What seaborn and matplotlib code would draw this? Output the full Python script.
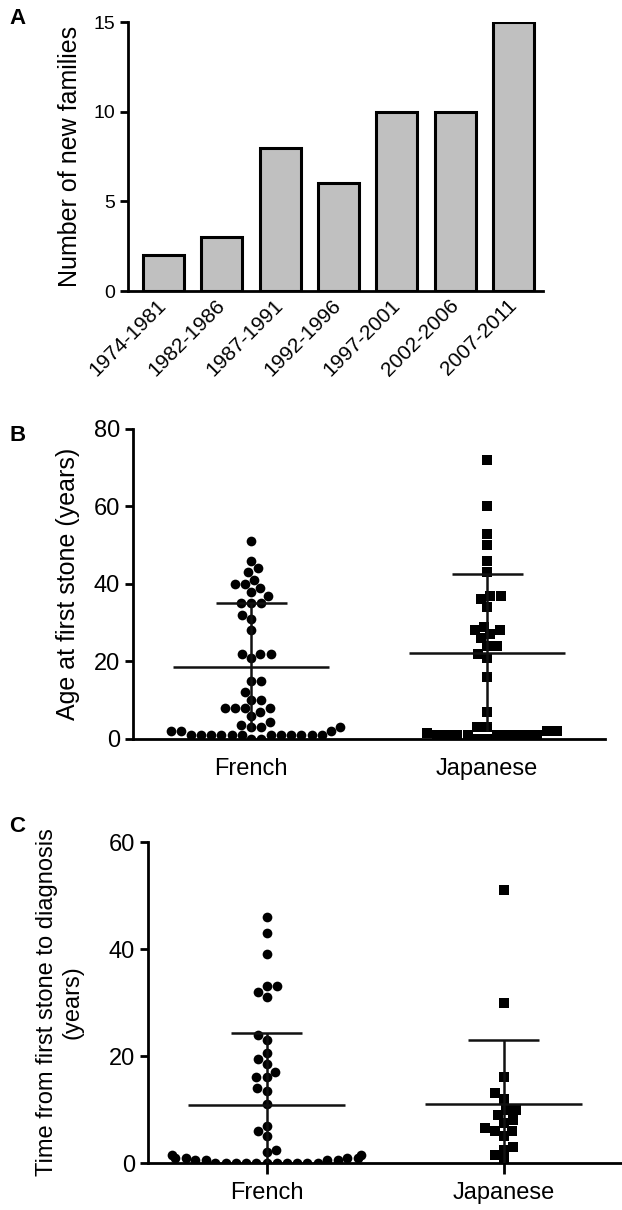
import matplotlib
matplotlib.use("Agg")
import matplotlib.pyplot as plt
import pandas as pd
import seaborn as sns

# panel A: new families per period
periods = ["1974-1981", "1982-1986", "1987-1991", "1992-1996",
           "1997-2001", "2002-2006", "2007-2011"]
new_families = [2, 3, 8, 6, 10, 10, 15]

groups = ["French", "Japanese"]

# panel B: age at first stone (years)
age_french = [51, 46, 44, 43, 41, 40, 40, 39, 38, 37, 35, 35, 35, 32, 31, 28,
              22, 22, 22, 21, 15, 15, 12, 10, 10, 8, 8, 8, 8, 7, 6, 4.5, 3.5,
              3, 3, 3, 2, 2, 2, 1, 1, 1, 1, 1, 1, 1, 1, 1, 1, 1, 1, 0, 0]
age_japanese = [72, 60, 53, 50, 46, 43, 37, 36, 37, 34, 29, 28, 27, 28, 26,
                24, 24, 22, 21, 16, 7, 3, 3, 2, 2, 1.5, 1, 1, 1, 1, 1, 1, 1,
                1, 1, 0, 0]
age_mean = [18.5, 22.3]
age_sd = [16.5, 20.3]

# panel C: time from first stone to diagnosis (years)
delay_french = [46, 43, 39, 33, 33, 31, 32, 24, 23, 20.5, 19.5, 18.5, 17, 16,
                16, 14, 13.5, 11, 6, 7, 5, 2, 2.5, 1.5, 1.5, 1, 1, 1, 1, 0.5,
                0.5, 0.5, 0.5, 0, 0, 0, 0, 0, 0, 0, 0, 0, 0, 0]
delay_japanese = [51, 30, 16, 13, 12, 10, 10, 9, 8, 7.5, 6.5, 6, 6, 5, 2.5, 3,
                  1.5, 0.5]
delay_mean = [10.8, 11.1]
delay_sd = [13.6, 11.9]

sns.set_style("ticks")
plt.rcParams["font.family"] = ["Liberation Sans", "DejaVu Sans"]
plt.rcParams["axes.linewidth"] = 2
plt.rcParams["axes.edgecolor"] = "black"
plt.rcParams["xtick.major.width"] = 2
plt.rcParams["ytick.major.width"] = 2
plt.rcParams["xtick.color"] = "black"
plt.rcParams["ytick.color"] = "black"
plt.rcParams["axes.labelcolor"] = "black"
plt.rcParams["text.color"] = "black"

fig = plt.figure(figsize=(6.22, 12.10), dpi=100)
ax_a = fig.add_axes([0.206, 0.7595, 0.667, 0.2223])
ax_b = fig.add_axes([0.214, 0.3893, 0.759, 0.2562])
ax_c = fig.add_axes([0.238, 0.0388, 0.762, 0.2653])

# ---- A ----
sns.barplot(x=periods, y=new_families, color="#c0c0c0", saturation=1,
            edgecolor="black", linewidth=2.2, width=0.7, ax=ax_a)
ax_a.set_xlim(-0.6, 6.5)
ax_a.set_ylim(0, 15)
ax_a.set_yticks([0, 5, 10, 15])
ax_a.set_ylabel("Number of new families", fontsize=18, labelpad=8)
ax_a.tick_params(axis="y", labelsize=14, length=6)
ax_a.tick_params(axis="x", labelsize=15, length=0, pad=8)
for lab in ax_a.get_xticklabels():
    lab.set_rotation(45)
    lab.set_ha("right")
    lab.set_va("center")
    lab.set_rotation_mode("anchor")


def dot_panel(ax, french, japanese, mean, sd, top, step, ylab, size):
    df = pd.DataFrame({
        "group": ["French"] * len(french) + ["Japanese"] * len(japanese),
        "value": french + japanese,
    })
    sns.swarmplot(data=df[df.group == "French"], x="group", y="value",
                  order=groups, marker="o", color="black", size=size, ax=ax,
                  warn_thresh=1)
    sns.swarmplot(data=df[df.group == "Japanese"], x="group", y="value",
                  order=groups, marker="s", color="black", size=size, ax=ax,
                  warn_thresh=1)
    for i in range(2):
        lo = max(mean[i] - sd[i], 0)
        hi = mean[i] + sd[i]
        ax.hlines(mean[i], i - 0.33, i + 0.33, color="#111111", lw=1.8, zorder=3)
        ax.hlines(hi, i - 0.15, i + 0.15, color="#111111", lw=1.8, zorder=3)
        ax.vlines(i, lo, hi, color="#111111", lw=1.8, zorder=3)
    ax.set_xlim(-0.5, 1.5)
    ax.set_ylim(0, top)
    ax.set_yticks(range(0, top + 1, step))
    ax.set_xlabel("")
    ax.set_ylabel(ylab, fontsize=18)
    ax.tick_params(axis="y", labelsize=17, length=6)
    ax.tick_params(axis="x", labelsize=17)


# ---- B ----
dot_panel(ax_b, age_french, age_japanese, age_mean, age_sd, 80, 20,
          "Age at first stone (years)", 7)
ax_b.tick_params(axis="x", length=0, pad=14)
ax_b.yaxis.labelpad = 10

# ---- C ----
dot_panel(ax_c, delay_french, delay_japanese, delay_mean, delay_sd, 60, 20,
          "Time from first stone to diagnosis\n(years)", 7)
ax_c.yaxis.label.set_size(17)
ax_c.yaxis.labelpad = 18
ax_c.tick_params(axis="x", length=8, pad=6)

for ax in (ax_a, ax_b, ax_c):
    sns.despine(ax=ax)

fig.text(0.015, 0.993, "A", fontsize=16, weight="bold", va="top")
fig.text(0.015, 0.649, "B", fontsize=16, weight="bold", va="top")
fig.text(0.015, 0.326, "C", fontsize=16, weight="bold", va="top")

fig.savefig("out.png", dpi=100)
